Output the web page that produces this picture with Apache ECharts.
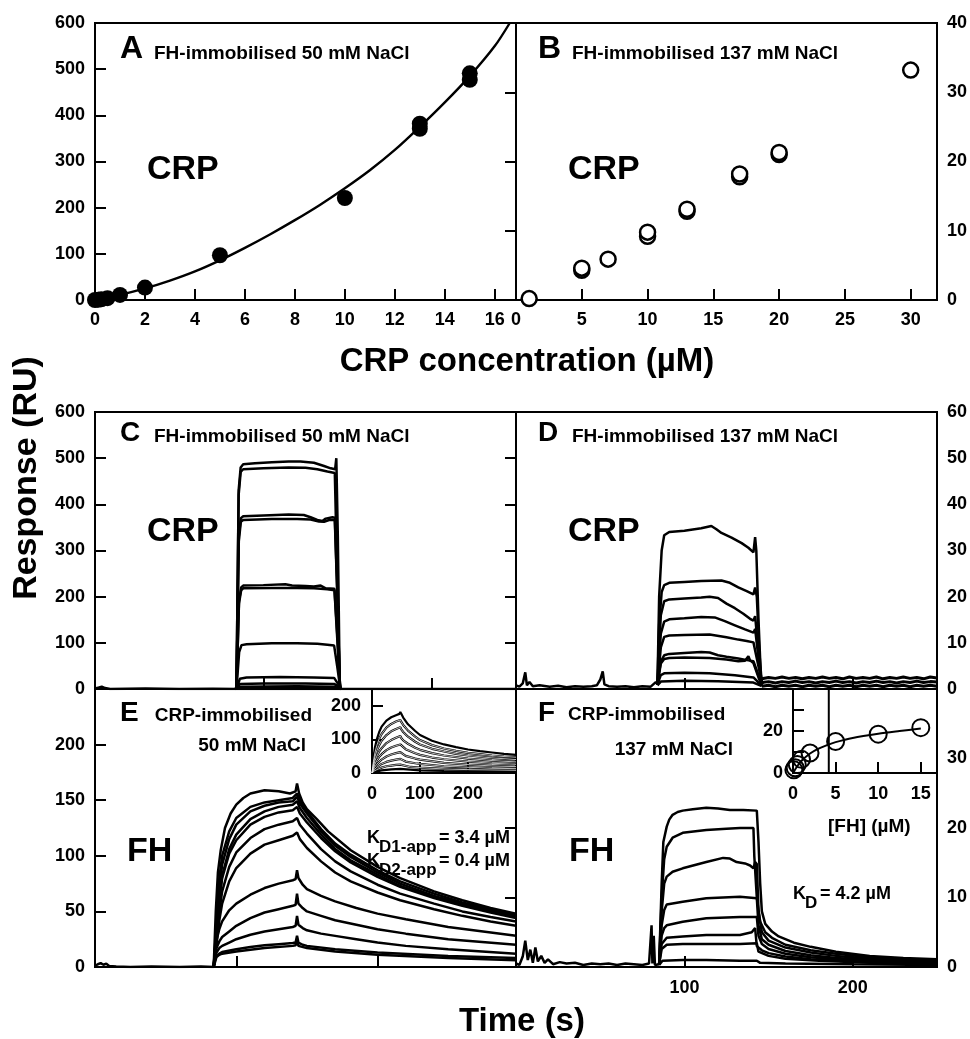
<!DOCTYPE html>
<html><head><meta charset="utf-8">
<script src="https://cdn.jsdelivr.net/npm/echarts/dist/echarts.min.js"></script>
<style>html,body{margin:0;padding:0;background:#fff}#c{width:970px;height:1039px}</style>
</head><body><div id="c"></div>
<script>
// ---------- Panel A (FH-immobilised, 50 mM NaCl, equilibrium) ----------
const A_conc = [0, 0.125, 0.25, 0.5, 1, 2, 5, 10, 13, 13, 15, 15];
const A_resp = [0, 0.5, 1.5, 4, 11, 27, 97, 221, 371, 382, 477, 491];
const A_fitX = [0,1,2,3,4,5,6,7,8,9,10,11,12,13,14,15,16,16.6];
const A_fitY = [0,11,25,42,62,86,113,142,173,206,242,281,325,375,428,485,550,600];
const A_xTicks = [0,16.85,2]; // min,max,interval
// ---------- Panel B (FH-immobilised, 137 mM NaCl) ----------
const B_conc = [1, 5, 5, 7, 10, 10, 13, 13, 17, 17, 20, 20, 30];
const B_resp = [0.2, 4.3, 4.6, 5.9, 9.2, 9.8, 12.8, 13.1, 17.8, 18.2, 21.0, 21.3, 33.2];
// ---------- Panel C sensorgrams ----------
const C_base = [[0,1],[2,3],[4,5],[6,2],[9,0],[30,1],[50,0],[70,0.5],[84,0],[146,0],[250,0]];
const C_c1 = [[84,0],[85.3,430],[86.5,480],[88,487],[95,489],[105,491],[115,493],[122,493],[130,490],[136,483],[140,478],[142.6,476],[143.3,500],[144.2,330],[145.3,20],[146,0]];
const C_c2 = [[84,0],[85.3,420],[86.5,470],[88,476],[100,478],[115,480],[125,479],[132,476],[138,471],[142.4,468],[143.8,250],[145.2,8],[146,0]];
const C_c3 = [[84,0],[85.4,330],[86.6,370],[88,374],[100,376],[115,378],[124,377],[128,372],[132,366],[135,364],[137,369],[141,372],[142.4,371],[144,200],[145.4,5],[146,0]];
const C_c4 = [[84,0],[85.4,320],[86.6,362],[88,366],[105,368],[120,368],[128,367],[133,363],[136,362],[139,366],[142.4,366],[144,190],[145.4,4],[146,0]];
const C_c5 = [[84,0],[85.5,190],[86.8,220],[88,224],[100,225],[113,227],[117,224],[125,223],[130,222],[134,224],[137,218],[142.2,217],[144,110],[145.5,3],[146,0]];
const C_c6 = [[84,0],[85.5,185],[86.8,214],[88,218],[105,219],[120,219],[130,218],[138,216],[142.2,214],[144,100],[145.5,2],[146,0]];
const C_c7 = [[84,0],[85.6,80],[87,95],[90,97],[105,99],[120,99],[132,98],[138,96],[142,94],[144,45],[145.6,2],[146,0]];
const C_c8 = [[84,0],[86,22],[90,25],[110,26],[130,25],[142,24],[144.5,10],[146,0]];
const C_c9 = [[84,0],[86,11],[100,12],[125,12],[142,11],[145,4],[146,0]];
const C_c10 = [[84,0],[86,5],[120,6],[142,5],[146,0]];
const C_c11 = [[83,0],[85,3],[120,3],[142,2.5],[146,0]];
// ---------- Panel D sensorgrams ----------
const D_base = [[0,0.8],[2,0.5],[4,1.2],[5.5,3.6],[6.5,0.8],[8,1.5],[10,0.6],[14,0.8],[20,0.5],[25,0.7],[30,0.4],[35,0.6],[40,0.5],[45,0.6],[48,0.8],[50,2],[51.5,3.8],[52.5,1],[55,0.6],[60,0.5],[65,0.6],[70,0.4],[75,0.6],[80,0.5],[83,1.5],[84,1]];
const D_d1 = [[84,1],[85,20],[86.5,30],[88,33.3],[91,34],[100,34.3],[110,34.8],[116,35.3],[119,34.6],[122,33.8],[128,32.8],[134,31.6],[138,30.6],[141,29.6],[142,32.9],[142.7,30],[144,15],[145.5,2],[146.5,1]];
const D_d2 = [[84,1],[85,14],[86.5,21],[88,22.5],[91,23],[100,23.2],[110,23.4],[122,23.5],[127,23],[132,22],[137,21.2],[141,20.5],[142,22],[143,20],[144.5,8],[146,1]];
const D_d3 = [[84,1],[86,16],[88,19],[91,19.4],[100,19.6],[110,19.8],[115,20],[120,19.7],[125,18.5],[130,17.5],[135,16.3],[139,15.2],[141,14.8],[142,15.8],[144.5,6],[146,1]];
const D_d4 = [[84,1],[86,12],[88,14.6],[91,15.1],[100,15.3],[110,15.6],[118,15.5],[124,14.7],[130,13.8],[136,12.9],[141,12.2],[142,13],[144.5,5],[146,1]];
const D_d5 = [[84,1],[86,9],[88,11.3],[91,11.6],[100,11.7],[115,11.8],[125,11.2],[132,10.7],[137,10.4],[141,10.1],[142,10.5],[144.5,4],[146,1]];
const D_d6 = [[84,1],[86,6],[88,7.3],[91,7.6],[100,7.8],[110,8],[115,7.9],[120,7.3],[125,7],[132,6.6],[138,6.2],[141,6],[144.5,2.5],[146,1]];
const D_d7 = [[84,1],[86,5.5],[88,6.5],[91,6.7],[100,6.8],[115,6.7],[125,6.4],[132,6],[136,6.1],[138,7.1],[139,6.2],[141,5.6],[144.5,2],[146,1]];
const D_d8 = [[84,1],[86,3],[88,3.4],[100,3.5],[115,3.4],[130,3],[141,2.5],[144.5,1.2],[146,0.8]];
const D_d9 = [[84,0.8],[86,1.6],[100,1.8],[120,1.7],[141,1.4],[146,0.6]];
const D_t1 = [[146,2.2],[150,2.5],[154,2.3],[158,2.6],[162,2.3],[166,2.5],[170,2.2],[174,2.5],[178,2.3],[182,2.6],[186,2.3],[190,2.5],[194,2.2],[198,2.6],[202,2.3],[206,2.5],[210,2.3],[214,2.6],[218,2.2],[222,2.5],[226,2.3],[230,2.6],[234,2.3],[238,2.5],[242,2.2],[246,2.6],[250,2.4]];
const D_t2 = [[146,1.4],[150,1.6],[154,1.3],[158,1.6],[162,1.4],[166,1.7],[170,1.4],[174,1.6],[178,1.3],[182,1.6],[186,1.4],[190,1.7],[194,1.4],[198,1.6],[202,1.3],[206,1.6],[210,1.4],[214,1.7],[218,1.4],[222,1.6],[226,1.3],[230,1.6],[234,1.4],[238,1.7],[242,1.4],[246,1.6],[250,1.5]];
const D_t3 = [[146,0.6],[150,0.8],[154,0.5],[158,0.8],[162,0.6],[166,0.8],[170,0.5],[174,0.8],[178,0.6],[182,0.8],[186,0.5],[190,0.8],[194,0.6],[198,0.8],[202,0.5],[206,0.8],[210,0.6],[214,0.8],[218,0.5],[222,0.8],[226,0.6],[230,0.8],[234,0.5],[238,0.8],[242,0.6],[246,0.8],[250,0.6]];
// ---------- Panel E sensorgrams ----------
const E_base = [[0,1],[2,2.5],[4,3.5],[6,2],[8,3],[10,1],[15,0.5],[25,0],[40,0.5],[60,0],[75,0.5],[84,0]];
const E_e1 = [[84,0],[85.5,50],[87,85],[89,105],[92,125],[96,138],[100,146],[105,152],[110,156],[120,159],[130,158],[138,156],[142,158],[143,165],[144.5,156],[147,148],[150,142],[157,133],[165,122],[181,105],[200,90],[216,80],[240,68],[260,60],[280,53],[298,48]];
const E_e2 = [[84,0],[86,40],[88,80],[90,100],[95,122],[100,134],[110,144],[120,148],[130,150],[140,152],[143,156],[145,150],[150,140],[160,124],[170,111],[181,101],[200,87],[216,77],[240,66],[260,58],[280,52],[298,47]];
const E_e3 = [[84,0],[86,35],[88,70],[90,92],[95,115],[100,128],[110,140],[120,145],[130,148],[140,149],[143,153],[145,147],[150,138],[160,122],[170,109],[181,99],[200,85],[216,75],[240,64],[260,57],[280,51],[298,46]];
const E_e4 = [[84,0],[86,32],[88,62],[90,82],[95,106],[100,119],[110,133],[120,140],[130,144],[140,146],[143,149],[145,143],[150,134],[160,119],[170,106],[181,96],[200,83],[216,73],[240,63],[260,56],[280,50],[298,45]];
const E_e5 = [[84,0],[86,30],[88,60],[90,80],[95,102],[100,114],[110,128],[120,135],[130,139],[140,141],[143,144],[145,138],[150,130],[160,116],[170,104],[181,94],[200,81],[216,72],[240,62],[260,55],[280,49],[298,44]];
const E_e6 = [[84,0],[86,25],[88,50],[90,68],[95,90],[100,103],[110,116],[120,124],[130,128],[140,131],[143,134],[145,128],[150,120],[160,106],[170,95],[181,86],[200,74],[216,66],[240,57],[260,50],[280,45],[298,41]];
const E_e7 = [[84,0],[86,20],[88,42],[90,57],[95,77],[100,89],[110,102],[120,110],[130,114],[140,118],[143,121],[145,115],[150,107],[160,95],[170,85],[181,77],[200,67],[216,60],[240,52],[260,46],[280,41],[298,37]];
const E_e8 = [[84,0],[85,12],[86,24],[88,34],[90,41],[95,51],[100,57],[110,65],[120,71],[130,75],[140,78],[142,79],[143,87],[144,80],[147,74],[150,70],[160,64],[170,59],[185,53],[200,48],[220,43],[250,36],[298,28]];
const E_e9 = [[84,0],[85,10],[86,17],[88,23],[90,27],[95,32],[100,37],[110,44],[120,49],[130,52],[140,55],[142,56],[143,66],[144,57],[147,53],[150,50],[160,46],[170,42],[185,38],[200,34],[220,30],[250,25],[298,20]];
const E_e10 = [[84,0],[85,8],[86,13],[88,17],[90,19],[95,22],[100,25],[110,29],[120,32],[130,34],[140,36],[142,37],[143,46],[144,38],[147,35],[150,33],[160,30],[170,28],[185,25],[200,22],[220,19],[250,16],[298,12]];
const E_e11 = [[84,0],[85,6],[86,10],[88,12],[90,13.5],[100,16],[110,18],[120,19.5],[130,20.5],[140,21.5],[142,22],[143,28],[144,22],[147,20],[150,19],[170,16],[200,13],[250,10],[298,8]];
const E_e12 = [[84,0],[86,9],[88,11],[90,12],[100,14],[120,17],[140,19],[142,19.5],[143,24],[144,19],[150,17],[170,14],[200,11],[250,8],[298,6]];
// ---------- Panel E inset ----------
const Ei_1 = [[0,0],[3,45],[6,75],[10,100],[15,122],[20,138],[30,156],[40,166],[50,172],[57,176],[59,182],[61,176],[65,165],[75,145],[90,125],[100,113],[125,96],[150,85],[175,77],[200,70],[225,65],[250,61],[275,57],[300,54]];
const Ei_2 = [[0,0],[3,35],[6,60],[10,82],[15,102],[20,116],[30,135],[40,146],[50,153],[59,158],[61,152],[65,143],[75,126],[90,108],[100,98],[125,83],[150,73],[175,66],[200,60],[225,56],[250,52],[275,49],[300,47]];
const Ei_3 = [[0,0],[3,28],[6,48],[10,66],[15,83],[20,96],[30,113],[40,124],[50,131],[59,136],[61,130],[65,122],[75,108],[90,93],[100,85],[125,72],[150,64],[175,57],[200,52],[250,45],[300,40]];
const Ei_4 = [[0,0],[3,20],[6,36],[10,50],[15,64],[20,74],[30,89],[40,98],[50,105],[59,110],[61,104],[65,97],[75,87],[90,75],[100,69],[125,59],[150,52],[200,43],[250,37],[300,33]];
const Ei_5 = [[0,0],[3,14],[6,26],[10,37],[15,48],[20,56],[30,68],[40,76],[50,81],[59,85],[61,80],[70,71],[90,59],[100,54],[125,46],[150,41],[200,34],[250,29],[300,26]];
const Ei_6 = [[0,0],[5,16],[10,26],[20,40],[30,49],[40,55],[50,59],[59,62],[61,58],[70,51],[90,43],[100,40],[150,30],[200,25],[250,21],[300,19]];
const Ei_7 = [[0,0],[5,10],[10,17],[20,27],[30,33],[40,37],[50,40],[59,42],[61,39],[70,34],[90,29],[100,27],[150,20],[200,17],[250,14],[300,13]];
const Ei_8 = [[0,0],[5,6],[10,10],[20,16],[30,20],[40,22],[50,24],[59,25],[61,23],[80,18],[100,16],[150,12],[200,10],[300,8]];
const Ei_9 = [[0,0],[10,5],[20,8],[40,11],[59,12],[61,11],[100,8],[150,6],[300,4]];
// ---------- Panel F sensorgrams ----------
const F_base = [[0,0.5],[2,0.3],[4,1.5],[5.5,3.8],[7,1],[8.5,2.5],[10,0.6],[11.5,2.8],[13,0.8],[15,1.6],[17,0.6],[19,1.1],[22,0.4],[26,0.7],[30,0.5],[35,0.6],[40,0.3],[45,0.5],[50,0.4],[55,0.5],[60,0.3],[65,0.5],[70,0.4],[75,0.3],[79,0.5],[80.5,6],[81,0.5],[81.8,4.5],[82.5,0.3],[85,0.4]];
const F_f1 = [[85,0.4],[86.5,12],[87.5,18],[89.5,20.2],[91,21.2],[93,21.9],[96,22.3],[99,22.5],[105,22.7],[113,22.9],[120,22.8],[127,22.6],[135,22.6],[143,22.5],[144,18],[145,12],[146,8],[148,6.2],[152,5.1],[156,4.4],[165,3.5],[175,2.9],[190,2.2],[210,1.6],[230,1.3],[250,1.1]];
const F_f2 = [[85,0.4],[86.5,10],[88,15.5],[89.5,17.3],[93,18.6],[99,19.3],[113,19.7],[125,19.9],[133,20],[141,20],[141.5,16],[143,10],[145,6.5],[148,5],[152,4.2],[160,3.2],[175,2.4],[190,1.9],[210,1.4],[230,1.1],[250,0.9]];
const F_f3 = [[85,0.4],[86.5,8],[88,12],[89.5,13],[93,13.7],[99,14.2],[113,15.1],[123,15.7],[127,15.6],[131,15.1],[136,14.9],[139,14.6],[141,14.2],[142,15.1],[143,14.8],[144,8],[146,5],[150,3.8],[160,2.8],[175,2.1],[190,1.6],[210,1.2],[230,0.9],[250,0.7]];
const F_f4 = [[85,0.4],[86.5,6],[88,8.2],[89.5,9],[99,9.4],[113,9.9],[133,10.1],[143,9.9],[144,6],[146,4],[150,3.2],[160,2.3],[175,1.7],[190,1.3],[210,1],[230,0.8],[250,0.6]];
const F_f5 = [[85,0.4],[86.5,4.5],[88,5.6],[89.5,6],[99,6.5],[113,7],[133,7.2],[143,7.2],[144,4.5],[146,3.3],[150,2.6],[160,1.9],[175,1.4],[190,1.1],[210,0.8],[250,0.5]];
const F_f6 = [[85,0.4],[86.5,3.3],[89.5,4.2],[99,4.4],[113,4.6],[133,4.6],[140,5],[142,5.6],[143,3],[146,2.4],[150,2],[160,1.5],[175,1.1],[200,0.8],[250,0.4]];
const F_f7 = [[85,0.4],[86.5,2.6],[89.5,3.2],[99,3.3],[113,3.3],[133,3.3],[143,3.4],[144,2.2],[150,1.6],[160,1.2],[180,0.9],[210,0.6],[250,0.4]];
const F_f8 = [[85,0.3],[87,0.9],[99,1.0],[113,1.0],[133,0.9],[143,0.9],[145,0.6],[160,0.5],[200,0.4],[250,0.3]];
// ---------- Panel F inset ----------
const Fi_conc = [0.1, 0.25, 0.5, 1, 2, 5, 10, 15];
const Fi_resp = [1.5, 2.5, 4, 6.5, 9.5, 15, 18.5, 21.6];
const Fi_fitX = [0, 0.5, 1, 2, 3, 4, 5, 7, 10, 12.5, 15];
const Fi_fitY = [0, 3.2, 5.8, 9.3, 11.6, 13.3, 14.7, 16.7, 18.7, 20, 21.2];
const KD_F = 4.2;

const FF = '"Liberation Sans", Arial, Helvetica, sans-serif';
const zip = (xs, ys) => xs.map((x, i) => [x, ys[i]]);

const grids = [
  {left:95, top:23, width:421, height:277},
  {left:516, top:23, width:421, height:277},
  {left:95, top:412, width:421, height:277},
  {left:516, top:412, width:421, height:277},
  {left:95, top:689, width:421, height:278},
  {left:516, top:689, width:421, height:278},
  {left:372, top:689, width:144, height:84},
  {left:793, top:689, width:144, height:84}
].map(g => Object.assign({show:true, borderColor:'#000', borderWidth:2, backgroundColor:'transparent', containLabel:false, outerBoundsMode:'none'}, g));

const lbl = (extra) => Object.assign({fontFamily:FF, fontWeight:'bold', fontSize:18, color:'#000', margin:10}, extra||{});
const tick = {inside:true, length:11, lineStyle:{width:2, color:'#000'}};
function ax(g, min, max, interval, pos, labelOpt) {
  return {type:'value', gridIndex:g, min, max, interval, position:pos,
    axisLine:{show:false}, axisTick:tick, splitLine:{show:false},
    axisLabel: labelOpt === false ? {show:false} : lbl(labelOpt)};
}
const xAxis = [
  ax(0, A_xTicks[0], A_xTicks[1], A_xTicks[2], 'bottom', {showMaxLabel:false, margin:11}),
  ax(1, 0, 32, 5, 'bottom', {showMaxLabel:false, margin:11}),
  ax(2, 0, 250, 100, 'bottom', false),
  ax(3, 0, 250, 100, 'bottom', false),
  ax(4, 0, 298, 100, 'bottom', false),
  ax(5, 0, 250, 100, 'bottom', {showMinLabel:false, showMaxLabel:false, margin:12}),
  ax(6, 0, 300, 100, 'bottom', {showMaxLabel:false, margin:12}),
  ax(7, 0, 16.9, 5, 'bottom', {showMaxLabel:false, margin:12})
];
const yAxis = [
  ax(0, 0, 600, 100, 'left'),
  ax(1, 0, 40, 10, 'right'),
  ax(2, 0, 600, 100, 'left'),
  ax(3, 0, 60, 10, 'right'),
  ax(4, 0, 250, 50, 'left', {showMaxLabel:false}),
  ax(5, 0, 40, 10, 'right', {showMaxLabel:false}),
  ax(6, 0, 250, 100, 'left', {showMaxLabel:false, margin:11}),
  ax(7, 0, 40, 10, 'left', {formatter: v => (v === 0 || v === 20) ? String(v) : '', margin:10})
];

const L = (data, g, w, color, z) => ({type:'line', xAxisIndex:g, yAxisIndex:g, data, symbol:'none', showSymbol:false,
  lineStyle:{width: w || 2.5, color: color || '#000', opacity:1}, z: z || 3, silent:true, animation:false});

const series = [];
// A
series.push(Object.assign(L(zip(A_fitX, A_fitY), 0, 2.4), {smooth:0.3}));
series.push({type:'scatter', xAxisIndex:0, yAxisIndex:0, data:zip(A_conc, A_resp), symbol:'circle', symbolSize:16,
  itemStyle:{color:'#000', opacity:1}, z:4, silent:true, animation:false});
// B
series.push({type:'scatter', xAxisIndex:1, yAxisIndex:1, data:zip(B_conc, B_resp), symbol:'circle', symbolSize:15,
  itemStyle:{color:'#fff', borderColor:'#000', borderWidth:2.5, opacity:1}, z:4, silent:true, animation:false});
// C
[C_base, C_c11, C_c10, C_c9, C_c8, C_c7, C_c6, C_c5, C_c4, C_c3, C_c2, C_c1].forEach(d => series.push(L(d, 2, 2.5)));
// D
[D_t3, D_t2, D_t1].forEach(d => series.push(L(d, 3, 3)));
[D_base, D_d9, D_d8, D_d7, D_d6, D_d5, D_d4, D_d3, D_d2, D_d1].forEach(d => series.push(L(d, 3, 2.5)));
// E
[E_base, E_e12, E_e11, E_e10, E_e9, E_e8, E_e7, E_e6, E_e5, E_e4, E_e3, E_e2, E_e1].forEach(d => series.push(L(d, 4, 2.5)));
// E inset
[Ei_9, Ei_8, Ei_7, Ei_6, Ei_5, Ei_4, Ei_3, Ei_2, Ei_1].forEach(d => series.push(L(d, 6, 2.2)));
[Ei_8, Ei_7, Ei_6, Ei_5, Ei_4, Ei_3, Ei_2].forEach(d => series.push(L(d, 6, 0.8, '#e8e8e8', 4)));
// F
[F_base, F_f8, F_f7, F_f6, F_f5, F_f4, F_f3, F_f2, F_f1].forEach(d => series.push(L(d, 5, 2.5)));
// F inset
series.push(L([[KD_F, 0], [KD_F, 40]], 7, 2));
series.push(Object.assign(L(zip(Fi_fitX, Fi_fitY), 7, 2), {smooth:0.3}));
series.push({type:'scatter', xAxisIndex:7, yAxisIndex:7, data:zip(Fi_conc, Fi_resp), symbol:'circle', symbolSize:17,
  itemStyle:{color:'rgba(255,255,255,0)', borderColor:'#000', borderWidth:2, opacity:1}, z:5, silent:true, animation:false});

const T = (text, x, y, size, align, extra) => Object.assign({type:'text', x, y, silent:true, z:10,
  style:{text, font:'bold ' + size + 'px ' + FF, fill:'#000', textAlign:align || 'left', textVerticalAlign:'middle', align:align || 'left', verticalAlign:'middle'}}, extra || {});

const graphic = [
  T('A', 120, 49, 32), T('FH-immobilised 50 mM NaCl', 154, 54, 19), T('CRP', 147, 170, 34),
  T('B', 538, 49, 32), T('FH-immobilised 137 mM NaCl', 572, 54, 19), T('CRP', 568, 170, 34),
  T('C', 120, 433, 28), T('FH-immobilised 50 mM NaCl', 154, 437, 19), T('CRP', 147, 532, 34),
  T('D', 538, 433, 28), T('FH-immobilised 137 mM NaCl', 572, 437, 19), T('CRP', 568, 532, 34),
  T('E', 120, 713, 28), T('CRP-immobilised', 312, 716, 19, 'right'), T('50 mM NaCl', 306, 746, 19, 'right'), T('FH', 127, 852, 34),
  T('F', 538, 713, 28), T('CRP-immobilised', 568, 715, 19), T('137 mM NaCl', 733, 750, 19, 'right'), T('FH', 569, 852, 34),
  T('K', 367, 838, 18), T('D1-app', 379, 847, 17), T('= 3.4 µM', 439, 838, 18),
  T('K', 367, 861, 18), T('D2-app', 379, 870, 17), T('= 0.4 µM', 439, 861, 18),
  T('K', 793, 894, 18), T('D', 805, 903, 17), T('= 4.2 µM', 820, 894, 18),
  T('[FH] (µM)', 828, 827, 19),
  T('CRP concentration (µM)', 527, 362, 33, 'center'),
  T('Time (s)', 522, 1022, 33, 'center'),
  T('Response (RU)', 27, 478, 34, 'center', {rotation: Math.PI / 2})
];

const chart = echarts.init(document.getElementById('c'), null, {renderer:'canvas'});
chart.setOption({animation:false, backgroundColor:'#fff', grid:grids, xAxis, yAxis, series, graphic});
</script></body></html>
